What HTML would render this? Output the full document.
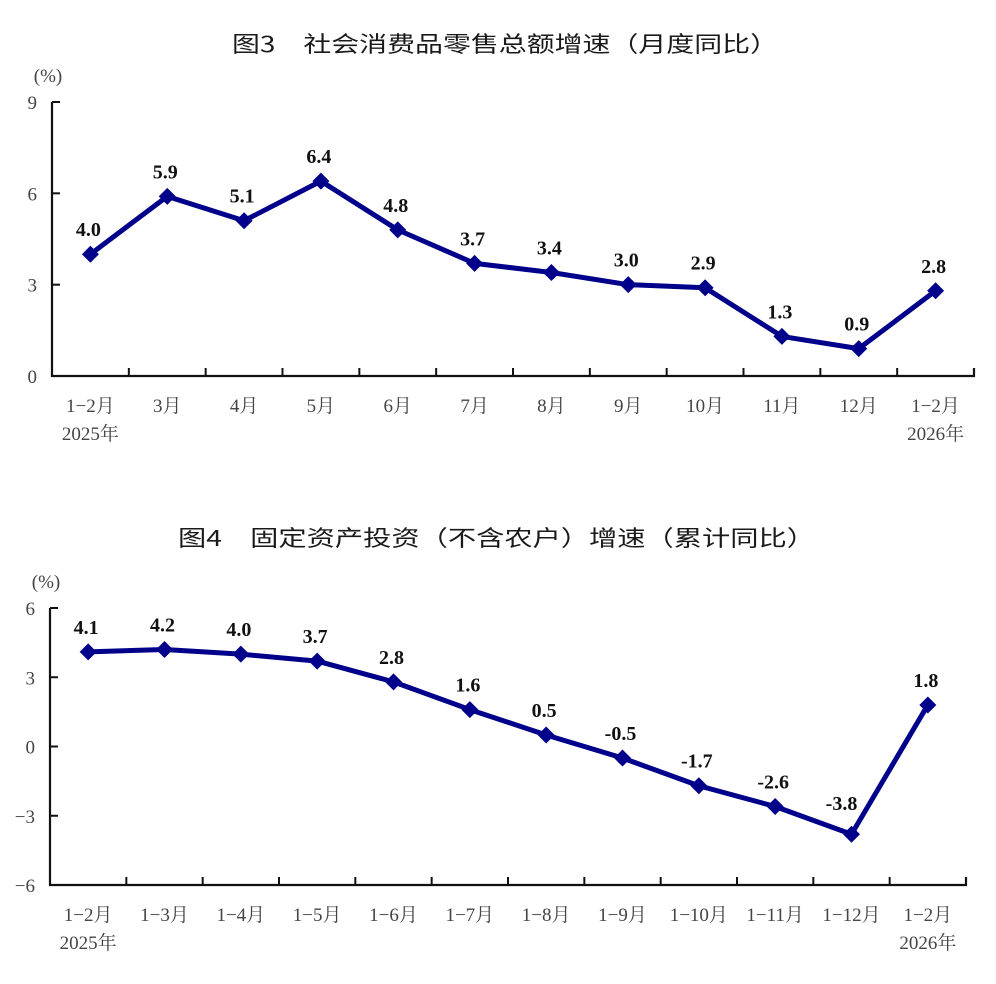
<!DOCTYPE html>
<html><head><meta charset="utf-8"><style>
html,body{margin:0;padding:0;background:#fff;width:996px;height:984px;overflow:hidden}
.t{font-family:"Noto Sans CJK SC","WenQuanYi Zen Hei",sans-serif;font-size:22px;fill:#1a1a1a}
.ax{font-family:"Liberation Serif","Noto Serif CJK SC",serif;font-size:19px;fill:#444}
.v{font-family:"Liberation Serif",serif;font-size:20px;font-weight:bold;fill:#111}
</style></head><body>
<svg width="996" height="984" viewBox="0 0 996 984" xmlns="http://www.w3.org/2000/svg">
<text class="t" x="232" y="52" textLength="546" lengthAdjust="spacingAndGlyphs">图3　社会消费品零售总额增速（月度同比）</text>
<text class="t" x="178" y="546" textLength="637" lengthAdjust="spacingAndGlyphs">图4　固定资产投资（不含农户）增速（累计同比）</text>
<g id="c1"></g><g id="c2"></g>
</svg>
<script>
const NS="http://www.w3.org/2000/svg";
function el(p,n,a,t){const e=document.createElementNS(NS,n);for(const k in a)e.setAttribute(k,a[k]);if(t!==undefined)e.textContent=t;p.appendChild(e);return e;}
function chart(g,o){
 const {x0,x1,top,bot,ymin,ymax,step,vals,cats,dx}=o;
 const ys=v=>bot-(v-ymin)/(ymax-ymin)*(bot-top);
 const w=(x1-x0)/vals.length;
 el(g,"text",{class:"ax",x:x0-4,y:top-20,"text-anchor":"middle","font-size":"15"},"(%)");
 el(g,"path",{d:`M${x0} ${top}V${bot}H${x1}V${bot-8}`,stroke:"#111","stroke-width":2.2,fill:"none"});
 for(let v=ymin;v<=ymax;v+=step){const y=ys(v);
  el(g,"line",{x1:x0,x2:x0+8,y1:y,y2:y,stroke:"#111","stroke-width":2});
  el(g,"text",{class:"ax",x:x0-15,y:y+7,"text-anchor":"end","font-size":"21"},v<0?"−"+(-v):String(v));}
 for(let i=1;i<vals.length;i++){const x=x0+w*i;el(g,"line",{x1:x,x2:x,y1:bot,y2:bot-8,stroke:"#111","stroke-width":2});}
 cats.forEach((c,i)=>{const x=x0+w*(i+0.5);
  el(g,"text",{class:"ax",x:x,y:bot+36,"text-anchor":"middle"},c);});
 el(g,"text",{class:"ax",x:x0+w*0.5,y:bot+64,"text-anchor":"middle"},"2025年");
 el(g,"text",{class:"ax",x:x0+w*(vals.length-0.5),y:bot+64,"text-anchor":"middle"},"2026年");
 const pts=vals.map((v,i)=>[x0+w*(i+0.5),ys(v)]);
 el(g,"polyline",{points:pts.map(p=>p.join(",")).join(" "),stroke:"#00008b","stroke-width":5,fill:"none","stroke-linejoin":"round"});
 pts.forEach((p,i)=>{const [x,y]=p;
  el(g,"path",{d:`M${x} ${y-8.5}L${x+8.5} ${y}L${x} ${y+8.5}L${x-8.5} ${y}Z`,fill:"#00008b"});
  const d=(dx&&dx[i])||[0,0];
  el(g,"text",{class:"v",x:x-2+d[0],y:y-18+d[1],"text-anchor":"middle"},vals[i].toFixed(1));});
}
chart(document.getElementById("c1"),{x0:52,x1:974,top:102,bot:376,ymin:0,ymax:9,step:3,
 vals:[4.0,5.9,5.1,6.4,4.8,3.7,3.4,3.0,2.9,1.3,0.9,2.8],
 cats:["1−2月","3月","4月","5月","6月","7月","8月","9月","10月","11月","12月","1−2月"]});
chart(document.getElementById("c2"),{x0:50,x1:966,top:608,bot:885,ymin:-6,ymax:6,step:3,
 vals:[4.1,4.2,4.0,3.7,2.8,1.6,0.5,-0.5,-1.7,-2.6,-3.8,1.8],
 dx:{10:[-8,-6]},
 cats:["1−2月","1−3月","1−4月","1−5月","1−6月","1−7月","1−8月","1−9月","1−10月","1−11月","1−12月","1−2月"]});
</script>
</body></html>
